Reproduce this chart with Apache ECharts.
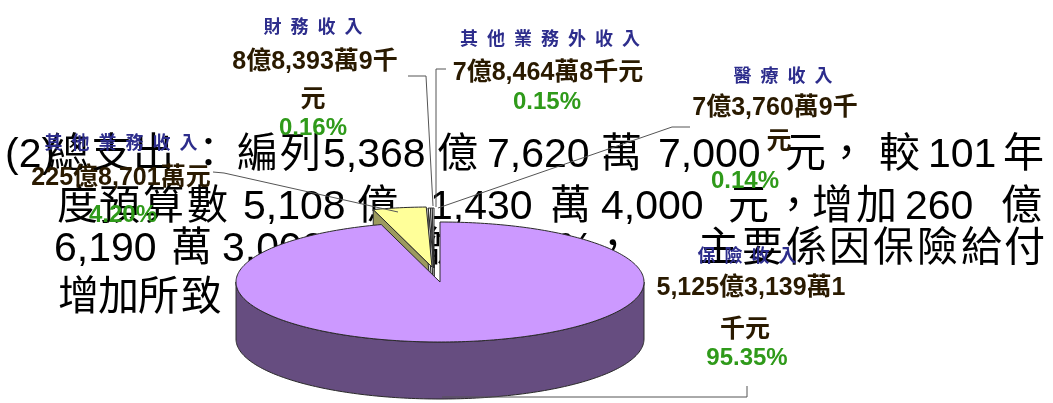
<!DOCTYPE html>
<html>
<head>
<meta charset="UTF-8">
<title>總收入</title>
<script src="https://cdn.jsdelivr.net/npm/echarts@6/dist/echarts.min.js"></script>
</head>
<body style="margin:0;background:#fff">
<div id="main" style="width:1053px;height:403px;"></div>
<script>
// 單位: 千元
var categories = ['保險收入', '其他業務收入', '財務收入', '其他業務外收入', '醫療收入'];
var values = [512531391, 22587010, 883939, 784648, 737609];
var amountLines = [
    ['5,125億3,139萬1', '千元'],
    ['225億8,701萬元'],
    ['8億8,393萬9千', '元'],
    ['7億8,464萬8千元'],
    ['7億3,760萬9千', '元']
];

var topColors = ['#cc99ff', '#ffff99', '#ffffff', '#ffffff', '#ffffff'];
var sideColors = ['#664d80', '#9c9a5e', '#e6e6e6', '#e6e6e6', '#e6e6e6'];
var explode = [[0, 0], [-8, -15], [-6, -14], [-6, -14], [-6, -14]];

// label layout: [x, y] for name, each amount line, percent
var labelPos = [
    {name: [747, 255], lines: [[751, 288], [745, 330]], pct: [747, 358]},
    {name: [121, 142], lines: [[121, 178]], pct: [123, 215]},
    {name: [313, 26], lines: [[315, 62], [313, 100]], pct: [313, 128]},
    {name: [550, 38], lines: [[548, 73]], pct: [547, 102]},
    {name: [783, 75], lines: [[775, 108], [779, 142]], pct: [745, 181]}
];
var leaders = [
    [[747, 386], [747, 397], [442, 397]],
    [[213, 172], [224, 173], [398, 212]],
    [[408, 76], [426, 76], [433, 206]],
    [[446, 69], [436, 69], [436, 207]],
    [[690, 127], [672, 127], [438, 208]]
];

// 本文
var paragraph = [
    {y: 156, parts: [['(2)', 5], ['總', 48], ['支', 91], ['出', 133], ['：', 188], ['編', 237], ['列', 280],
        ['5,368', 323], ['億', 437], ['7,620', 487], ['萬', 601], ['7,000', 658], ['元', 785],
        ['，', 826], ['較', 879], ['101', 928], ['年', 1003]]},
    {y: 208, parts: [['度', 57], ['預', 99], ['算', 143], ['數', 187], ['5,108', 243], ['億', 357],
        ['1,430', 430], ['萬', 550], ['4,000', 601], ['元', 728], ['，', 773], ['增', 812], ['加', 856],
        ['260', 905], ['億', 1001]]},
    {y: 250, parts: [['6,190', 54], ['萬', 171], ['3,000', 222], ['元', 336], ['，', 372], ['增', 402],
        ['加', 437], ['5.10%', 478], ['，', 592], ['主', 698], ['要', 742], ['係', 786], ['因', 829],
        ['保', 873], ['險', 917], ['給', 961], ['付', 1004]]},
    {y: 299, parts: [['增', 58], ['加', 98], ['所', 138], ['致', 181]]}
];

var total = values.reduce(function (s, v) { return s + v; }, 0);
var starts = [];
(function () {
    var acc = 0;
    for (var i = 0; i < values.length; i++) {
        starts.push(acc / total * Math.PI * 2);
        acc += values[i];
    }
})();

var cx = 440, cy = 282, rx = 204, ry = 60, depth = 57;
var edge = {stroke: '#2a2a2a', lineWidth: 1, lineJoin: 'round'};

function slice(params, api) {
    var i = params.dataIndex;
    var a0 = starts[i];
    var a1 = a0 + api.value(0) / total * Math.PI * 2;
    var ox = cx + explode[i][0], oy = cy + explode[i][1];
    function pt(a, d) {
        return [ox + rx * Math.sin(a), oy - ry * Math.cos(a) + (d || 0)];
    }
    function arc(b0, b1, d) {
        var n = Math.max(2, Math.ceil((b1 - b0) / 0.02));
        var pts = [];
        for (var k = 0; k <= n; k++) pts.push(pt(b0 + (b1 - b0) * k / n, d));
        return pts;
    }
    return {i: i, a0: a0, a1: a1, ox: ox, oy: oy, pt: pt, arc: arc};
}

function renderSide(params, api) {
    var s = slice(params, api);
    var fill = sideColors[s.i];
    var children = [];
    if (Math.sin(s.a0) < 0) {
        children.push({type: 'polygon',
            shape: {points: [[s.ox, s.oy], s.pt(s.a0), s.pt(s.a0, depth), [s.ox, s.oy + depth]]},
            style: Object.assign({fill: fill}, edge)});
    }
    if (Math.sin(s.a1) > 0) {
        children.push({type: 'polygon',
            shape: {points: [[s.ox, s.oy], s.pt(s.a1), s.pt(s.a1, depth), [s.ox, s.oy + depth]]},
            style: Object.assign({fill: fill}, edge)});
    }
    var b0 = Math.max(s.a0, Math.PI / 2), b1 = Math.min(s.a1, Math.PI * 1.5);
    if (b1 > b0) {
        children.push({type: 'polygon',
            shape: {points: s.arc(b0, b1, 0).concat(s.arc(b0, b1, depth).reverse())},
            style: Object.assign({fill: fill}, edge)});
    }
    return {type: 'group', children: children};
}

function renderTop(params, api) {
    var s = slice(params, api);
    return {type: 'polygon', shape: {points: [[s.ox, s.oy]].concat(s.arc(s.a0, s.a1, 0))},
        style: Object.assign({fill: topColors[s.i]}, edge)};
}

var textFont = '41px "Liberation Sans", "Noto Sans CJK TC", sans-serif';
var graphics = [];
paragraph.forEach(function (row) {
    row.parts.forEach(function (p) {
        graphics.push({type: 'text', z: 1, x: p[1], y: row.y,
            style: {text: p[0], font: textFont, fill: '#000', verticalAlign: 'middle'}});
    });
});
leaders.forEach(function (pts) {
    graphics.push({type: 'polyline', z: 10, shape: {points: pts},
        style: {stroke: '#555', lineWidth: 1, fill: null}});
});
categories.forEach(function (c, i) {
    var lp = labelPos[i];
    graphics.push({type: 'text', z: 11, x: lp.name[0], y: lp.name[1],
        style: {text: c.split('').join('\u2002'), fill: '#2d2d8c',
            font: 'bold 18px "Noto Sans CJK TC", sans-serif', align: 'center', verticalAlign: 'middle'}});
    amountLines[i].forEach(function (t, k) {
        graphics.push({type: 'text', z: 11, x: lp.lines[k][0], y: lp.lines[k][1],
            style: {text: t, fill: '#2a1a00', shadowColor: 'rgba(214,140,20,0.9)', shadowBlur: 3,
                font: 'bold 25px "Liberation Sans", "Noto Sans CJK TC", sans-serif',
                align: 'center', verticalAlign: 'middle'}});
    });
    var pct = (values[i] / total * 100).toFixed(2) + '%';
    graphics.push({type: 'text', z: 11, x: lp.pct[0], y: lp.pct[1],
        style: {text: pct, fill: '#2f9a1a', font: 'bold 24px "Liberation Sans", sans-serif',
            align: 'center', verticalAlign: 'middle'}});
});

var seriesData = values.map(function (v, i) { return {name: categories[i], value: [v]}; });

var myChart = echarts.init(document.getElementById('main'));
var option = {
    animation: false,
    backgroundColor: '#fff',
    graphic: graphics,
    series: [{
        type: 'custom',
        coordinateSystem: 'none',
        z: 5,
        renderItem: renderSide,
        data: seriesData
    }, {
        type: 'custom',
        coordinateSystem: 'none',
        z: 6,
        renderItem: renderTop,
        data: seriesData
    }]
};
myChart.setOption(option);
</script>
</body>
</html>
